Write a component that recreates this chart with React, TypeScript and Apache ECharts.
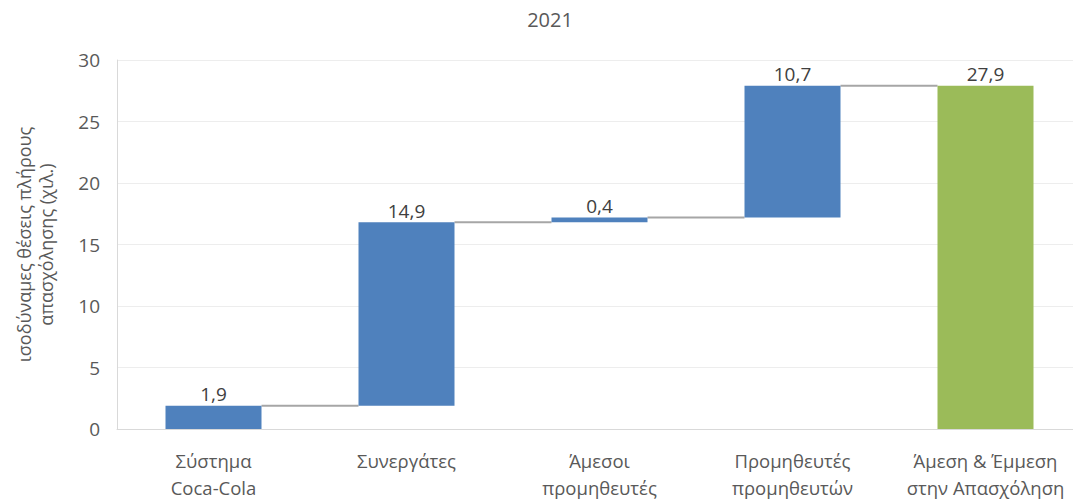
import React, { useEffect, useRef } from "react";
import * as echarts from "echarts";

const categories = [
  "Σύστημα\nCoca-Cola",
  "Συνεργάτες",
  "Άμεσοι\nπρομηθευτές",
  "Προμηθευτές\nπρομηθευτών",
  "Άμεση & Έμμεση\nστην Απασχόληση",
];
const deltas = [1.9, 14.9, 0.4, 10.7];
const total = 27.9;
const yTicks = { min: 0, max: 30, interval: 5 };
const title = "2021";
const yName = "ισοδύναμες θέσεις πλήρους\nαπασχόλησης (χιλ.)";

const BLUE = "#4F81BD";
const GREEN = "#9BBB59";
const FONT = "Open Sans";

export default function App() {
  const ref = useRef<HTMLDivElement>(null);
  useEffect(() => {
    if (!ref.current) return;
    document.body.style.overflow = "hidden";
    const chart = echarts.init(ref.current, undefined, { renderer: "svg" });

    const bases: number[] = [];
    const tops: number[] = [];
    let acc = 0;
    deltas.forEach((d) => {
      bases.push(acc);
      acc += d;
      tops.push(Math.round(acc * 10) / 10);
    });
    bases.push(0);
    const visible = [...deltas, total];
    const connectorTops = [...tops];

    const fmt = (v: number) => v.toFixed(1).replace(".", ",");
    const BAR_W = 96;

    chart.setOption({
      animation: false,
      title: {
        text: title,
        left: 545,
        top: 4,
        textAlign: "center",
        textStyle: { fontFamily: FONT, fontSize: 20, fontWeight: "normal", color: "#595959" },
      },
      grid: { left: 117, top: 60, right: 0, bottom: 75, containLabel: false },
      xAxis: {
        type: "category",
        data: categories,
        axisLine: { lineStyle: { color: "#D9D9D9", width: 1 } },
        axisTick: { show: false },
        axisLabel: {
          fontFamily: FONT,
          fontSize: 18.5,
          color: "#595959",
          lineHeight: 27,
          margin: 18,
          interval: 0,
        },
      },
      yAxis: {
        type: "value",
        min: yTicks.min,
        max: yTicks.max,
        interval: yTicks.interval,
        name: yName,
        nameLocation: "middle",
        nameGap: 60,
        nameTextStyle: { fontFamily: FONT, fontSize: 18, color: "#595959", lineHeight: 22 },
        axisLine: { show: true, lineStyle: { color: "#D9D9D9" } },
        axisTick: { show: false },
        axisLabel: { fontFamily: FONT, fontSize: 19, color: "#595959", margin: 17 },
        splitLine: { lineStyle: { color: "#EDEDED", width: 1 } },
      },
      series: [
        {
          type: "bar",
          stack: "w",
          data: bases,
          barWidth: BAR_W,
          itemStyle: { color: "transparent" },
          emphasis: { disabled: true },
          silent: true,
        },
        {
          type: "bar",
          stack: "w",
          data: visible.map((v, i) => ({
            value: v,
            itemStyle: { color: i === visible.length - 1 ? GREEN : BLUE },
          })),
          barWidth: BAR_W,
          label: {
            show: true,
            position: "top",
            distance: 2,
            fontFamily: FONT,
            fontSize: 19,
            color: "#404040",
            formatter: (p: any) => fmt(p.value),
          },
        },
        {
          type: "custom",
          data: connectorTops.map((v, i) => [i, v]),
          silent: true,
          z: 1,
          renderItem: (params: any, api: any) => {
            const i = api.value(0);
            const v = api.value(1);
            const p1 = api.coord([i, v]);
            const p2 = api.coord([i + 1, v]);
            return {
              type: "line",
              shape: { x1: p1[0] + BAR_W / 2, y1: p1[1], x2: p2[0] - BAR_W / 2, y2: p2[1] },
              style: { stroke: "#A6A6A6", lineWidth: 2 },
            };
          },
        },
      ],
    });
    return () => chart.dispose();
  }, []);
  return (
    <div
      ref={ref}
      style={{ position: "fixed", left: 0, top: 0, width: 1082, height: 504, background: "#fff" }}
    />
  );
}
